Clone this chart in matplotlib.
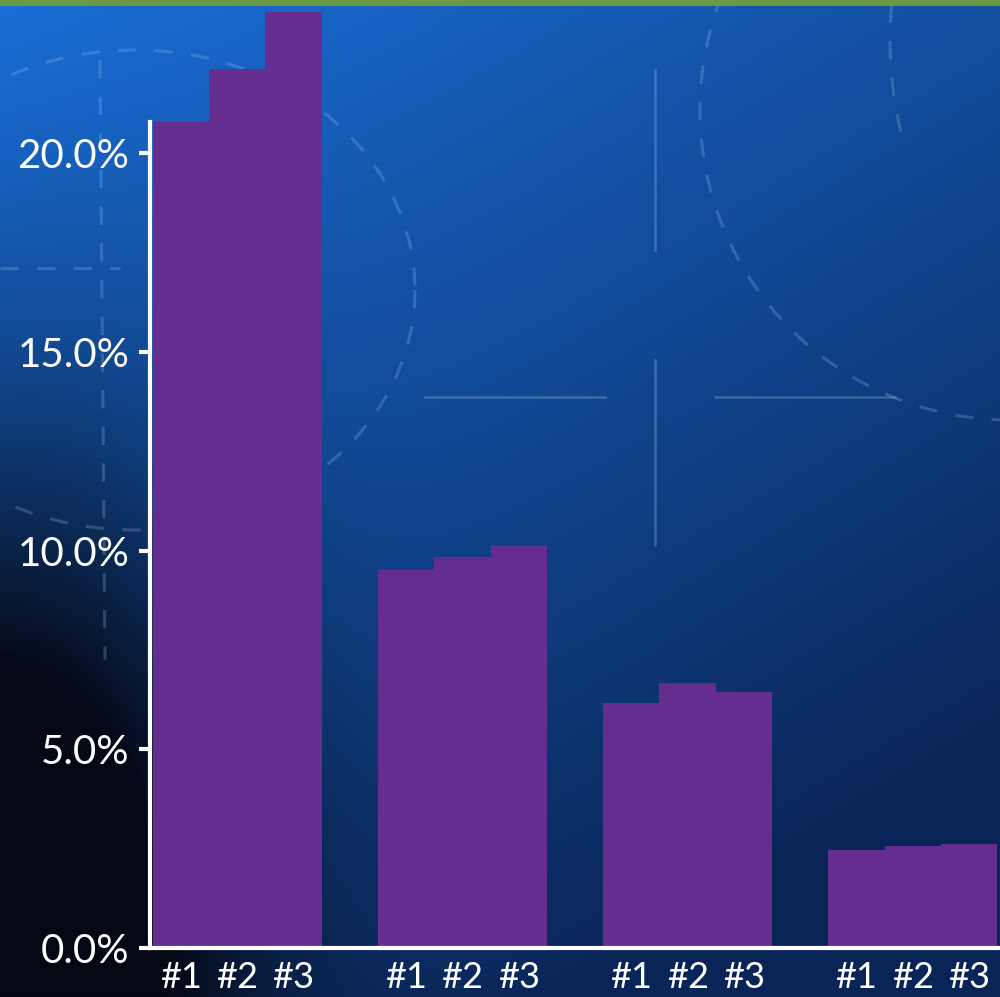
import numpy as np
import matplotlib.pyplot as plt
from matplotlib.patches import Arc

groups = ['A', 'B', 'C', 'D']
bar_labels = ['#1', '#2', '#3']
values = [
    [20.78, 22.11, 23.55],
    [9.51, 9.84, 10.11],
    [6.16, 6.67, 6.44],
    [2.47, 2.57, 2.62],
]
y_ticks = [0, 5, 10, 15, 20]

W, H = 1000, 997
fig = plt.figure(figsize=(W / 100, H / 100), dpi=100)

# background gradient
bg = fig.add_axes([0, 0, 1, 1])
u = np.linspace(0, 1, W)[None, :]
v = np.linspace(0, 1, H)[:, None]
t = np.clip(0.45 * u + 0.75 * v, 0, 1)
top = np.array([26, 112, 218]) / 255
bot = np.array([10, 38, 88]) / 255
img = top[None, None, :] * (1 - t[..., None]) + bot[None, None, :] * t[..., None]
shade = np.exp(-(u ** 2 / 0.06 + (1 - v) ** 2 / 0.22))
shade = np.clip(shade * 1.6, 0, 1)
dark = np.array([4, 8, 20]) / 255
img = img * (1 - shade[..., None]) + dark[None, None, :] * shade[..., None]
bg.imshow(img, extent=[0, W, H, 0], aspect='auto')
bg.set_xlim(0, W)
bg.set_ylim(H, 0)
bg.axis('off')

# faint dashed decorations
deco = dict(color='#9fc3ee', alpha=0.25, lw=2.2, ls=(0, (6, 6)))
bg.add_patch(Arc((135, 290), 560, 480, theta1=0, theta2=360, **deco))
bg.add_patch(Arc((1010, 110), 620, 620, theta1=90, theta2=270, **deco))
bg.add_patch(Arc((1060, 40), 340, 520, theta1=150, theta2=270, **deco))
bg.add_patch(Arc((1000, 1000), 540, 1560, theta1=100, theta2=180, **deco))
bg.plot([0, 120], [268, 268], **deco)
bg.plot([100, 105], [60, 660], **deco)
solid = dict(color='#9fc3ee', alpha=0.3, lw=1.8)
bg.plot([425, 605], [397, 397], **solid)
bg.plot([715, 895], [397, 397], **solid)
bg.plot([655, 655], [70, 250], **solid)
bg.plot([655, 655], [360, 545], **solid)
bg.plot([0, 1000], [2, 2], color='#6a9a45', lw=5)

ax = fig.add_axes([0.15, 49 / H, 0.85, 948 / H])
ax.patch.set_alpha(0)

xs, labels = [], []
for g, vals in enumerate(values):
    for i, val in enumerate(vals):
        x = g * 4 + i
        ax.bar(x, val, width=1.0, color='#662d91', clip_on=False, zorder=2)
        xs.append(x)
        labels.append(bar_labels[i])

ax.set_xlim(-0.55, 14.55)
ax.set_ylim(0, 23.85)
ax.set_yticks(y_ticks)
ax.set_yticklabels([f'{y:.1f}%' for y in y_ticks])
ax.set_xticks(xs)
ax.set_xticklabels(labels)

for s in ['top', 'right']:
    ax.spines[s].set_visible(False)
for s in ['left', 'bottom']:
    ax.spines[s].set_color('white')
    ax.spines[s].set_linewidth(3)
    ax.spines[s].set_zorder(3)
ax.spines['left'].set_bounds(0, values[0][0])

ax.tick_params(axis='y', colors='white', length=8, width=3, labelsize=29, pad=7)
ax.tick_params(axis='x', colors='white', length=0, labelsize=26, pad=9)
for lab in ax.get_xticklabels() + ax.get_yticklabels():
    lab.set_fontfamily('Lato')

fig.savefig('out.png', dpi=100)
